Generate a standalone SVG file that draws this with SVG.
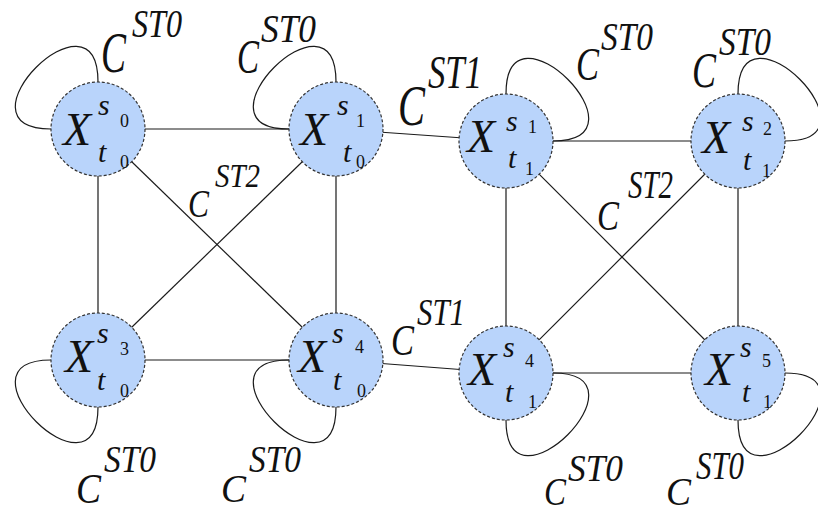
<svg xmlns="http://www.w3.org/2000/svg" width="818" height="515" viewBox="0 0 818 515">
<style>
.e{stroke:#1a1a1a;stroke-width:1.2;fill:none}
.n{fill:#b9d4fb;stroke:#333;stroke-width:1.2;stroke-dasharray:3,2}
text{font-family:'Liberation Serif','DejaVu Serif',serif;fill:#111}
.it{font-style:italic}
.rm{font-size:18px}
.X{font-size:46px}
.st{font-size:30px}
</style>
<rect width="818" height="515" fill="#fff"/>
<g id="connectors">
<line class="e" x1="98" y1="129" x2="336" y2="129"/>
<line class="e" x1="98" y1="129" x2="98" y2="360"/>
<line class="e" x1="98" y1="129" x2="336" y2="360"/>
<line class="e" x1="336" y1="129" x2="98" y2="360"/>
<line class="e" x1="336" y1="129" x2="336" y2="360"/>
<line class="e" x1="98" y1="360" x2="336" y2="360"/>
<line class="e" x1="336" y1="129" x2="506" y2="141"/>
<line class="e" x1="336" y1="360" x2="506" y2="373"/>
<line class="e" x1="506" y1="141" x2="738" y2="141"/>
<line class="e" x1="506" y1="141" x2="506" y2="373"/>
<line class="e" x1="738" y1="141" x2="738" y2="373"/>
<line class="e" x1="506" y1="373" x2="738" y2="373"/>
<line class="e" x1="506" y1="141" x2="738" y2="373"/>
<line class="e" x1="738" y1="141" x2="506" y2="373"/>
<path class="e" d="M98,82 C98,-20 -51,129 51,129"/>
<path class="e" d="M336,82 C336,-20 187,129 289,129"/>
<path class="e" d="M506,94 C506,-8 655,141 553,141"/>
<path class="e" d="M738,94 C738,-8 887,141 785,141"/>
<path class="e" d="M51,360 C-51,360 98,509 98,407"/>
<path class="e" d="M289,360 C187,360 336,509 336,407"/>
<path class="e" d="M553,373 C655,373 506,522 506,420"/>
<path class="e" d="M785,373 C887,373 738,522 738,420"/>
</g>
<g id="node-s0t0">
<circle class="n" cx="98" cy="129" r="47"/>
<text class="it X" x="63" y="145">X</text>
<text class="it st" x="98" y="115">s</text>
<text class="rm" x="120" y="127">0</text>
<text class="it st" x="98" y="162">t</text>
<text class="rm" x="120" y="168">0</text>
</g>
<g id="node-s1t0">
<circle class="n" cx="336" cy="129" r="47"/>
<text class="it X" x="300" y="145">X</text>
<text class="it st" x="337" y="115">s</text>
<text class="rm" x="356" y="127">1</text>
<text class="it st" x="343" y="162">t</text>
<text class="rm" x="356" y="168">0</text>
</g>
<g id="node-s1t1">
<circle class="n" cx="506" cy="141" r="47"/>
<text class="it X" x="467" y="152">X</text>
<text class="it st" x="506" y="131">s</text>
<text class="rm" x="528" y="133">1</text>
<text class="it st" x="508" y="168">t</text>
<text class="rm" x="525" y="175">1</text>
</g>
<g id="node-s2t1">
<circle class="n" cx="738" cy="141" r="47"/>
<text class="it X" x="702" y="153">X</text>
<text class="it st" x="742" y="131">s</text>
<text class="rm" x="763" y="135">2</text>
<text class="it st" x="743" y="170">t</text>
<text class="rm" x="762" y="177">1</text>
</g>
<g id="node-s3t0">
<circle class="n" cx="98" cy="360" r="47"/>
<text class="it X" x="65" y="372">X</text>
<text class="it st" x="97" y="343">s</text>
<text class="rm" x="120" y="355">3</text>
<text class="it st" x="97" y="390">t</text>
<text class="rm" x="120" y="397">0</text>
</g>
<g id="node-s4t0">
<circle class="n" cx="336" cy="360" r="47"/>
<text class="it X" x="298" y="372">X</text>
<text class="it st" x="332" y="343">s</text>
<text class="rm" x="355" y="353">4</text>
<text class="it st" x="333" y="390">t</text>
<text class="rm" x="357" y="397">0</text>
</g>
<g id="node-s4t1">
<circle class="n" cx="506" cy="373" r="47"/>
<text class="it X" x="468" y="385">X</text>
<text class="it st" x="503" y="357">s</text>
<text class="rm" x="525" y="367">4</text>
<text class="it st" x="505" y="402">t</text>
<text class="rm" x="528" y="408">1</text>
</g>
<g id="node-s5t1">
<circle class="n" cx="738" cy="373" r="47"/>
<text class="it X" x="705" y="385">X</text>
<text class="it st" x="740" y="357">s</text>
<text class="rm" x="762" y="367">5</text>
<text class="it st" x="742" y="402">t</text>
<text class="rm" x="763" y="408">1</text>
</g>
<g id="labels">
<text class="it" x="101" y="72" font-size="56" textLength="25" lengthAdjust="spacingAndGlyphs">C</text>
<text class="it" x="132" y="37" font-size="40" textLength="50" lengthAdjust="spacingAndGlyphs">ST0</text>
<text class="it" x="237" y="73" font-size="48" textLength="22" lengthAdjust="spacingAndGlyphs">C</text>
<text class="it" x="261" y="42" font-size="41" textLength="55" lengthAdjust="spacingAndGlyphs">ST0</text>
<text class="it" x="398" y="125" font-size="56" textLength="27" lengthAdjust="spacingAndGlyphs">C</text>
<text class="it" x="428" y="88" font-size="47" textLength="54" lengthAdjust="spacingAndGlyphs">ST1</text>
<text class="it" x="576" y="80" font-size="46" textLength="23" lengthAdjust="spacingAndGlyphs">C</text>
<text class="it" x="601" y="50" font-size="41" textLength="52" lengthAdjust="spacingAndGlyphs">ST0</text>
<text class="it" x="692" y="87" font-size="51" textLength="24" lengthAdjust="spacingAndGlyphs">C</text>
<text class="it" x="719" y="55" font-size="41" textLength="52" lengthAdjust="spacingAndGlyphs">ST0</text>
<text class="it" x="188" y="217" font-size="41" textLength="21" lengthAdjust="spacingAndGlyphs">C</text>
<text class="it" x="215" y="187" font-size="34" textLength="45" lengthAdjust="spacingAndGlyphs">ST2</text>
<text class="it" x="597" y="230" font-size="42" textLength="22" lengthAdjust="spacingAndGlyphs">C</text>
<text class="it" x="628" y="198" font-size="39" textLength="45" lengthAdjust="spacingAndGlyphs">ST2</text>
<text class="it" x="391" y="355" font-size="45" textLength="23" lengthAdjust="spacingAndGlyphs">C</text>
<text class="it" x="417" y="325" font-size="38" textLength="48" lengthAdjust="spacingAndGlyphs">ST1</text>
<text class="it" x="76" y="503" font-size="42" textLength="25" lengthAdjust="spacingAndGlyphs">C</text>
<text class="it" x="104" y="472" font-size="37" textLength="52" lengthAdjust="spacingAndGlyphs">ST0</text>
<text class="it" x="221" y="502" font-size="41" textLength="25" lengthAdjust="spacingAndGlyphs">C</text>
<text class="it" x="249" y="472" font-size="38" textLength="52" lengthAdjust="spacingAndGlyphs">ST0</text>
<text class="it" x="544" y="505" font-size="39" textLength="22" lengthAdjust="spacingAndGlyphs">C</text>
<text class="it" x="568" y="481" font-size="38" textLength="55" lengthAdjust="spacingAndGlyphs">ST0</text>
<text class="it" x="666" y="505" font-size="39" textLength="25" lengthAdjust="spacingAndGlyphs">C</text>
<text class="it" x="696" y="479" font-size="40" textLength="48" lengthAdjust="spacingAndGlyphs">ST0</text>
</g>
</svg>
